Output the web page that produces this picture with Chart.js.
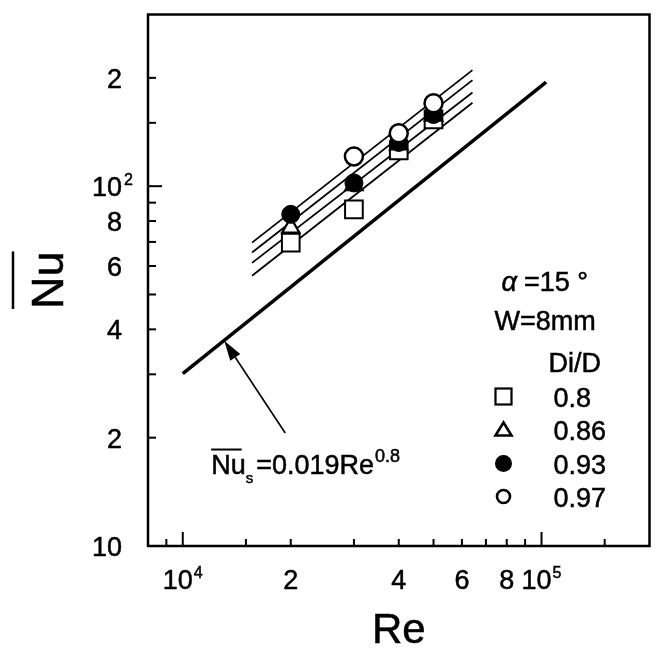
<!DOCTYPE html>
<html>
<head>
<meta charset="utf-8">
<script src="https://cdn.jsdelivr.net/npm/chart.js@4/dist/chart.umd.min.js"></script>
<style>
  html, body { margin: 0; padding: 0; background: #fff; }
</style>
</head>
<body>
<canvas id="c" width="664" height="653"></canvas>
<script>
// measured points, Re vs mean Nu, one list per Di/D
const reValues = [20000, 30000, 40000, 50000];
const nu080 = [69.7, 86.2, 125.7, 153.4];
const nu086 = [76.7, 100.6, 130.6, 157.1];
const nu093 = [83.5, 102.1, 132.3, 158.2];
const nu097 = [null, 121.0, 140.4, 169.9];

// fitted lines through each group
const fitRe = [15600, 64200];
const fit097 = [69.7, 210.1];
const fit093 = [65.4, 197.1];
const fit086 = [61.2, 182.2];
const fit080 = [56.4, 170.6];

// straight pipe correlation Nu_s = 0.019 Re^0.8
const corrCoef = 0.019;
const corrExp = 0.8;
const corrRe = [10000, 103000];

// arrow (tail -> tip) and note anchor, in Re / Nu
const arrowTail = [19300, 20.6];
const arrowTip = [13050, 37.2];
const noteAt = [12000, 15.9];

const xTickValues = [1e4, 2e4, 4e4, 6e4, 8e4, 1e5];
const xTickText = ['10', '2', '4', '6', '8', '10'];
const xTickSup = ['4', '', '', '', '', '5'];
const yTickValues = [10, 20, 40, 60, 80, 100, 200];
const yTickText = ['10', '2', '4', '6', '8', '10', '2'];
const yTickSup = ['', '', '', '', '', '2', ''];

const ratioLabels = ['0.8', '0.86', '0.93', '0.97'];

const FONT = '"Liberation Sans", Arial, Helvetica, sans-serif';

const pts = arr => reValues.map((re, i) => ({ x: re, y: arr[i] })).filter(p => p.y != null);
const seg = arr => fitRe.map((re, i) => ({ x: re, y: arr[i] }));
const corrPts = corrRe.map(re => ({ x: re, y: corrCoef * Math.pow(re, corrExp) }));

const lineSet = (data, width) => ({
  type: 'line', data, showLine: true, borderColor: '#000', borderWidth: width,
  pointRadius: 0, fill: false, order: 10
});

const isPow10 = v => Math.abs(Math.log10(v) - Math.round(Math.log10(v))) < 1e-9;

// filled text with a hairline outline, the print is a little heavy
function txt(ctx, s, x, y){
  ctx.fillText(s, x, y);
  ctx.save();
  ctx.lineWidth = 0.5;
  ctx.strokeStyle = ctx.fillStyle;
  ctx.strokeText(s, x, y);
  ctx.restore();
}

function drawFrame(chart){
  const { ctx, chartArea: a, scales: { x, y } } = chart;
  ctx.save();
  ctx.strokeStyle = '#000';
  ctx.lineWidth = 2.5;
  ctx.strokeRect(a.left, a.top, a.right - a.left, a.bottom - a.top);
  ctx.lineWidth = 2;
  x.ticks.forEach(t => {
    const px = x.getPixelForValue(t.value);
    if(px <= a.left + 2 || px >= a.right - 2) return;
    const len = isPow10(t.value) ? 14 : 7;
    ctx.beginPath(); ctx.moveTo(px, a.bottom); ctx.lineTo(px, a.bottom - len); ctx.stroke();
  });
  y.ticks.forEach(t => {
    const py = y.getPixelForValue(t.value);
    if(py <= a.top + 2 || py >= a.bottom - 2) return;
    const len = isPow10(t.value) ? 14 : 8;
    ctx.beginPath(); ctx.moveTo(a.left, py); ctx.lineTo(a.left + len, py); ctx.stroke();
  });
  ctx.restore();
}

function drawTickLabels(chart){
  const { ctx, chartArea: a, scales: { x, y } } = chart;
  ctx.save();
  ctx.fillStyle = '#000';
  ctx.textBaseline = 'alphabetic';
  xTickValues.forEach((v, i) => {
    const px = x.getPixelForValue(v);
    ctx.font = '27px ' + FONT;
    const wb = ctx.measureText(xTickText[i]).width;
    ctx.font = '16px ' + FONT;
    const ws = xTickSup[i] ? ctx.measureText(xTickSup[i]).width + 1 : 0;
    const left = px - (wb + ws) / 2;
    ctx.textAlign = 'left';
    ctx.font = '27px ' + FONT;
    txt(ctx, xTickText[i], left, a.bottom + 43);
    if(xTickSup[i]){
      ctx.font = '16px ' + FONT;
      txt(ctx, xTickSup[i], left + wb + 1, a.bottom + 32);
    }
  });
  yTickValues.forEach((v, i) => {
    const py = y.getPixelForValue(v);
    const right = a.left - 26;
    ctx.textAlign = 'right';
    ctx.font = '27px ' + FONT;
    txt(ctx, yTickText[i], right, py + 10);
    if(yTickSup[i]){
      ctx.textAlign = 'left';
      ctx.font = '16px ' + FONT;
      txt(ctx, yTickSup[i], right + 2, py - 1);
    }
  });

  // axis titles
  ctx.font = '42px ' + FONT;
  ctx.textAlign = 'center';
  txt(ctx, 'Re', (a.left + a.right) / 2, a.bottom + 97);

  const cy = (a.top + a.bottom) / 2;
  ctx.save();
  ctx.translate(63, cy);
  ctx.rotate(-Math.PI / 2);
  ctx.font = '45px ' + FONT;
  ctx.textAlign = 'center';
  txt(ctx, 'Nu', 0, 0);
  const w = ctx.measureText('Nu').width;
  ctx.lineWidth = 2.5;
  ctx.beginPath(); ctx.moveTo(-w / 2, -50); ctx.lineTo(w / 2, -50); ctx.stroke();
  ctx.restore();
  ctx.restore();
}

function drawNote(chart){
  const { ctx, scales: { x, y } } = chart;
  ctx.save();
  ctx.fillStyle = '#000';
  ctx.strokeStyle = '#000';

  // arrow pointing at the correlation line
  const x0 = x.getPixelForValue(arrowTail[0]), y0 = y.getPixelForValue(arrowTail[1]);
  const x1 = x.getPixelForValue(arrowTip[0]), y1 = y.getPixelForValue(arrowTip[1]);
  const ang = Math.atan2(y1 - y0, x1 - x0);
  ctx.lineWidth = 1.6;
  ctx.beginPath(); ctx.moveTo(x0, y0); ctx.lineTo(x1 - 10 * Math.cos(ang), y1 - 10 * Math.sin(ang)); ctx.stroke();
  ctx.beginPath();
  ctx.moveTo(x1, y1);
  ctx.lineTo(x1 - 20 * Math.cos(ang) + 6 * Math.sin(ang), y1 - 20 * Math.sin(ang) - 6 * Math.cos(ang));
  ctx.lineTo(x1 - 20 * Math.cos(ang) - 6 * Math.sin(ang), y1 - 20 * Math.sin(ang) + 6 * Math.cos(ang));
  ctx.closePath(); ctx.fill();

  // Nu_s = 0.019 Re^0.8
  const px = x.getPixelForValue(noteAt[0]), py = y.getPixelForValue(noteAt[1]);
  ctx.textAlign = 'left';
  ctx.textBaseline = 'alphabetic';
  ctx.font = '27px ' + FONT;
  txt(ctx, 'Nu', px, py);
  const wNu = ctx.measureText('Nu').width;
  ctx.lineWidth = 2;
  ctx.beginPath(); ctx.moveTo(px, py - 24); ctx.lineTo(px + wNu - 4, py - 24); ctx.stroke();
  ctx.font = '15px ' + FONT;
  txt(ctx, 's', px + wNu, py + 9);
  const ws = ctx.measureText('s').width;
  ctx.font = '27px ' + FONT;
  const main = '=0.019Re';
  txt(ctx, main, px + wNu + ws + 3, py);
  const wm = ctx.measureText(main).width;
  ctx.font = '18px ' + FONT;
  txt(ctx, String(corrExp), px + wNu + ws + 4 + wm, py - 12);
  ctx.restore();
}

function drawLegend(chart){
  const { ctx, chartArea: a } = chart;
  const rx = a.right;
  ctx.save();
  ctx.fillStyle = '#000';
  ctx.strokeStyle = '#000';
  ctx.textAlign = 'left';
  ctx.textBaseline = 'alphabetic';
  ctx.font = 'italic 27px ' + FONT;
  txt(ctx, '\u03b1', rx - 148, a.top + 276);
  ctx.font = '27px ' + FONT;
  txt(ctx, ' =15 \u00b0', rx - 133, a.top + 276);
  txt(ctx, 'W=8mm', rx - 155, a.top + 315);
  txt(ctx, 'Di/D', rx - 101, a.top + 357);

  const mx = rx - 146;
  const rows = [382, 415, 449, 482].map(v => v + a.top);
  rows.forEach((ry, i) => {
    ctx.font = '27px ' + FONT;
    txt(ctx, ratioLabels[i], rx - 96, ry + 10);
  });
  // markers
  ctx.lineWidth = 2.2;
  ctx.fillStyle = '#fff';
  ctx.fillRect(mx - 8, rows[0] - 8, 16, 16);
  ctx.strokeRect(mx - 8, rows[0] - 8, 16, 16);
  ctx.beginPath();
  ctx.moveTo(mx, rows[1] - 7); ctx.lineTo(mx + 8, rows[1] + 6); ctx.lineTo(mx - 8, rows[1] + 6); ctx.closePath();
  ctx.lineWidth = 2.6; ctx.stroke();
  ctx.fillStyle = '#000';
  ctx.beginPath(); ctx.arc(mx, rows[2], 8.5, 0, Math.PI * 2); ctx.fill();
  ctx.beginPath(); ctx.arc(mx, rows[3], 6.5, 0, Math.PI * 2); ctx.lineWidth = 2.6; ctx.stroke();
  ctx.restore();
}

const figure = {
  id: 'figure',
  afterDraw(chart){
    drawFrame(chart);
    drawTickLabels(chart);
    drawNote(chart);
    drawLegend(chart);
  }
};

new Chart(document.getElementById('c'), {
  type: 'scatter',
  data: {
    datasets: [
      lineSet(corrPts, 3.5),
      lineSet(seg(fit097), 1.8),
      lineSet(seg(fit093), 1.8),
      lineSet(seg(fit086), 1.8),
      lineSet(seg(fit080), 1.8),
      { label: '0.8', data: pts(nu080), pointStyle: 'rect', pointRadius: 12.5, borderWidth: 2,
        borderColor: '#000', backgroundColor: '#fff', order: 4 },
      { label: '0.86', data: pts(nu086), pointStyle: 'triangle', pointRadius: 10, borderWidth: 2.2,
        borderColor: '#000', backgroundColor: '#fff', order: 3 },
      { label: '0.93', data: pts(nu093), pointStyle: 'circle', pointRadius: 9, borderWidth: 1,
        borderColor: '#000', backgroundColor: '#000', order: 2 },
      { label: '0.97', data: pts(nu097), pointStyle: 'circle', pointRadius: 9, borderWidth: 2.5,
        borderColor: '#000', backgroundColor: '#fff', order: 1 }
    ]
  },
  options: {
    responsive: false,
    animation: false,
    layout: { padding: { left: 148, right: 10, top: 11, bottom: 107 } },
    plugins: { legend: { display: false }, tooltip: { enabled: false } },
    scales: {
      x: {
        type: 'logarithmic', min: 8000, max: 200000,
        ticks: { display: false }, grid: { display: false }, border: { display: false },
        afterFit(s){ s.height = 0; }
      },
      y: {
        type: 'logarithmic', min: 10, max: 300,
        ticks: { display: false }, grid: { display: false }, border: { display: false },
        afterFit(s){ s.width = 0; }
      }
    }
  },
  plugins: [figure]
});
</script>
</body>
</html>
